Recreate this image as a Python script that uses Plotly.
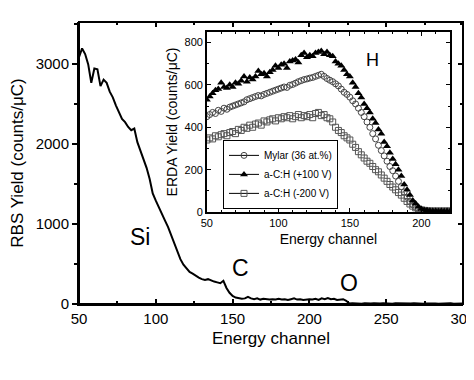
import plotly.graph_objects as go

# ---------------- data ----------------
rbs_channel = list(range(50, 302, 2))
rbs_yield = [3080, 3190, 3120, 2990, 2760, 2940, 2930, 2720, 2800, 2760,
             2650, 2580, 2480, 2400, 2310, 2270, 2210, 2170, 2190, 2020,
             1920, 1800, 1700, 1560, 1380, 1290, 1200, 1130, 1040, 960,
             860, 780, 680, 560, 490, 440, 400, 380, 350, 330,
             310, 300, 310, 290, 280, 270, 260, 290, 200, 140,
             100, 80, 70, 65, 70, 90, 70, 60, 70, 55,
             65, 60, 55, 60, 55, 65, 55, 60, 50, 60,
             70, 55, 60, 50, 55, 60, 55, 65, 50, 70,
             60, 75, 60, 65, 50, 55, 60, 40, 5, 10,
             5, 8, 4, 10, 6, 5, 8, 4, 6, 10,
             5, 7, 4, 8, 6, 5, 9, 4, 6, 8,
             5, 7, 4, 6, 8, 5, 6, 4, 7, 5,
             6, 8, 4, 6, 5, 7]

erda_channel = list(range(50, 222, 2))
mylar = [450, 460, 470, 465, 480, 475, 490, 485, 495, 500,
         505, 510, 515, 520, 530, 535, 540, 545, 550, 548,
         555, 560, 565, 570, 575, 580, 585, 590, 588, 598,
         602, 608, 615, 620, 625, 628, 632, 635, 640, 645,
         650, 640, 630, 622, 615, 605, 595, 580, 565, 555,
         542, 525, 510, 490, 470, 450, 425, 400, 370, 345,
         315, 290, 265, 240, 215, 195, 170, 145, 120, 95,
         70, 50, 35, 22, 14, 10, 7, 5, 4, 4,
         4, 4, 4, 4, 4, 4]
ach_p100 = [530, 545, 560, 575, 580, 610, 590, 585, 600, 590,
            610, 605, 620, 640, 615, 635, 625, 640, 665, 650,
            655, 640, 660, 670, 690, 680, 695, 700, 680, 710,
            715, 720, 705, 740, 750, 730, 740, 735, 750, 755,
            760, 745, 755, 740, 735, 710, 700, 690, 670, 650,
            640, 610, 590, 560, 540, 510, 490, 470, 440, 420,
            390, 370, 330, 310, 280, 250, 225, 200, 170, 130,
            105, 80, 55, 40, 25, 15, 10, 8, 6, 5,
            5, 4, 5, 4, 5, 4]
ach_m200 = [340, 350, 345, 360, 355, 365, 370, 360, 375, 380,
            370, 390, 385, 400, 395, 410, 400, 415, 420, 410,
            430, 425, 435, 440, 430, 445, 440, 450, 445, 455,
            440, 450, 460, 445, 455, 450, 460, 445, 465, 470,
            455, 460, 445, 440, 425, 400, 385, 375, 360, 350,
            340, 320, 305, 285, 270, 255, 240, 230, 215, 200,
            190, 175, 160, 145, 130, 118, 105, 92, 80, 65,
            50, 38, 28, 20, 14, 10, 8, 6, 5, 5,
            5, 5, 5, 5, 5, 5]

legend_names = ["Mylar (36 at.%)", "a-C:H (+100 V)", "a-C:H (-200 V)"]

FONT = "Liberation Sans, Arial, sans-serif"

fig = go.Figure()

fig.add_trace(go.Scatter(x=rbs_channel, y=rbs_yield, mode="lines",
                         line=dict(color="black", width=2),
                         xaxis="x", yaxis="y", showlegend=False))

marker_styles = [
    dict(symbol="circle-open", size=6, color="#444", line=dict(width=1, color="#444")),
    dict(symbol="triangle-up", size=7, color="black", line=dict(width=0)),
    dict(symbol="square-open", size=6, color="#555", line=dict(width=1, color="#555")),
]
series = [mylar, ach_p100, ach_m200]
draw_order = [0, 2, 1]
for i in draw_order:
    fig.add_trace(go.Scatter(x=erda_channel, y=series[i], mode="markers",
                             marker=marker_styles[i], xaxis="x2", yaxis="y2",
                             showlegend=False))
for i in range(3):
    fig.add_trace(go.Scatter(x=[None], y=[None], mode="lines+markers",
                             marker=marker_styles[i],
                             line=dict(color="black", width=1),
                             name=legend_names[i], xaxis="x2", yaxis="y2"))

# invisible traces to activate mirror tick axes (right / top)
fig.add_trace(go.Scatter(x=[None], y=[None], xaxis="x", yaxis="y3", showlegend=False))
fig.add_trace(go.Scatter(x=[None], y=[None], xaxis="x3", yaxis="y", showlegend=False))

axis_common = dict(showline=True, linecolor="black", showgrid=False,
                   zeroline=False, tickcolor="black", automargin=False)

fig.update_layout(
    width=466, height=372,
    margin=dict(l=71, r=11, t=14, b=76),
    paper_bgcolor="white", plot_bgcolor="white",
    font=dict(family=FONT, color="black"),
    xaxis=dict(**axis_common, range=[50, 300], dtick=50, tick0=50,
               ticks="inside", ticklen=5, linewidth=2, tickwidth=1.5,
               ticklabeloverflow="allow",
               minor=dict(dtick=25, tick0=50, ticks="inside", ticklen=3, tickcolor="black"),
               tickfont=dict(size=15),
               title=dict(text="Energy channel", font=dict(size=17), standoff=6),
               domain=[0, 1]),
    yaxis=dict(**axis_common, range=[0, 3520], dtick=1000, tick0=0,
               ticks="outside", ticklen=5, linewidth=2, tickwidth=1.5,
               ticklabeloverflow="allow",
               minor=dict(dtick=500, ticks="outside", ticklen=3, tickcolor="black"),
               tickfont=dict(size=15),
               title=dict(text="RBS Yield (counts/μC)", font=dict(size=17), standoff=8),
               domain=[0, 1]),
    yaxis3=dict(overlaying="y", side="right", range=[0, 3520], dtick=1000, tick0=0,
                ticks="inside", ticklen=5, tickwidth=1.5, tickcolor="black",
                showticklabels=False, showgrid=False, zeroline=False, showline=False,
                automargin=False,
                minor=dict(dtick=500, ticks="inside", ticklen=3, tickcolor="black")),
    xaxis3=dict(overlaying="x", side="top", range=[50, 300], dtick=50, tick0=50,
                ticks="inside", ticklen=5, tickwidth=1.5, tickcolor="black",
                showticklabels=False, showgrid=False, zeroline=False, showline=False,
                automargin=False,
                minor=dict(dtick=25, tick0=50, ticks="inside", ticklen=3, tickcolor="black")),
    xaxis2=dict(**axis_common, domain=[0.333, 0.966], anchor="y2",
                range=[50, 220], dtick=50, tick0=50, ticks="inside", ticklen=4,
                linewidth=1.5, mirror="ticks",
                minor=dict(dtick=10, tick0=50, ticks="inside", ticklen=2, tickcolor="black"),
                tickfont=dict(size=11),
                title=dict(text="Energy channel", font=dict(size=14), standoff=6)),
    yaxis2=dict(**axis_common, domain=[0.326, 0.965], anchor="x2",
                range=[0, 850], dtick=200, tick0=0, ticks="inside", ticklen=4,
                linewidth=1.5, mirror="ticks",
                minor=dict(dtick=100, ticks="inside", ticklen=2, tickcolor="black"),
                tickfont=dict(size=11),
                title=dict(text="ERDA Yield (counts/μC)", font=dict(size=14), standoff=4)),
    legend=dict(x=0.375, y=0.582, xanchor="left", yanchor="top",
                bgcolor="white", bordercolor="black", borderwidth=1,
                font=dict(size=10, family=FONT), itemwidth=30,
                tracegroupgap=0),
    showlegend=True,
)

# outer frame of the main plot
fig.add_shape(type="rect", xref="paper", yref="paper", x0=0, x1=1, y0=0, y1=1,
              line=dict(color="black", width=2), layer="above")
# inset background
fig.add_shape(type="rect", xref="x2 domain", yref="y2 domain", x0=0, x1=1, y0=0, y1=1,
              fillcolor="white", line=dict(width=0), layer="below")
# legend drop shadow
fig.add_shape(type="rect", xref="paper", yref="paper", x0=0.383, x1=0.674, y0=0.342, y1=0.571,
              fillcolor="black", line=dict(width=0), layer="above")

annotations = [
    dict(text="Si", x=90, y=840, xref="x", yref="y", size=23),
    dict(text="C", x=155, y=450, xref="x", yref="y", size=23),
    dict(text="O", x=226, y=262, xref="x", yref="y", size=23),
    dict(text="H", x=166, y=718, xref="x2", yref="y2", size=18),
]
for a in annotations:
    fig.add_annotation(text=a["text"], x=a["x"], y=a["y"], xref=a["xref"], yref=a["yref"],
                       showarrow=False, font=dict(size=a["size"], family=FONT, color="black"))

fig.write_html("out.html")
